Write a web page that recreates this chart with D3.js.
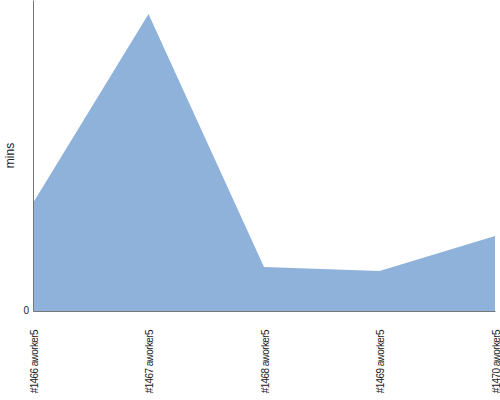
<!DOCTYPE html>
<html>
<head>
<meta charset="utf-8">
<script src="https://cdn.jsdelivr.net/npm/d3@7"></script>
<style>
  html, body { margin: 0; padding: 0; background: #fff; }
  svg { display: block; }
</style>
</head>
<body>
<div id="chart"></div>
<script>
// build labels and durations (mins)
const builds = ['#1466 aworker5', '#1467 aworker5', '#1468 aworker5', '#1469 aworker5', '#1470 aworker5'];
const durations = [10.8, 29.7, 4.4, 4.0, 7.5];
const yTicks = [0];
const yMax = 31.1;

const width = 500, height = 400;
const margin = { top: 0, right: 5, bottom: 89, left: 33 };

const svg = d3.select('#chart').append('svg')
  .attr('width', width).attr('height', height)
  .style('font-family', '"Liberation Sans", Arial, sans-serif');

const x = d3.scalePoint().domain(builds).range([margin.left, width - margin.right]);
const y = d3.scaleLinear().domain([0, yMax]).range([height - margin.bottom, margin.top]);

const area = d3.area()
  .x((d, i) => x(builds[i]))
  .y0(y(0))
  .y1(d => y(d));

svg.append('path')
  .datum(durations)
  .attr('fill', '#8fb2db')
  .attr('d', area);

// y axis
const yAxis = svg.append('g')
  .attr('transform', `translate(${margin.left},0)`)
  .call(d3.axisLeft(y).tickValues(yTicks).tickSize(0).tickPadding(4));
yAxis.select('.domain').attr('stroke', '#777');
yAxis.selectAll('text').attr('font-size', 10).attr('fill', '#222').attr('dy', '0.25em')
  .attr('font-family', '"Liberation Sans", Arial, sans-serif');

// x axis
const xAxis = svg.append('g')
  .attr('transform', `translate(0,${y(0)})`)
  .call(d3.axisBottom(x).tickSize(0).tickPadding(0));
xAxis.select('.domain').attr('stroke', '#777');
xAxis.selectAll('text')
  .attr('font-size', 10)
  .attr('fill', '#222')
  .attr('font-family', '"Liberation Sans Narrow", "Liberation Sans", Arial, sans-serif')
  .attr('letter-spacing', -0.6)
  .attr('text-anchor', 'end')
  .attr('dy', null)
  .attr('y', 0)
  .attr('transform', 'translate(4,19) rotate(-90)');

svg.append('text')
  .attr('transform', `translate(14,${y(yMax / 2)}) rotate(-90)`)
  .attr('text-anchor', 'middle')
  .attr('font-size', 12)
  .attr('fill', '#222')
  .text('mins');
</script>
</body>
</html>
